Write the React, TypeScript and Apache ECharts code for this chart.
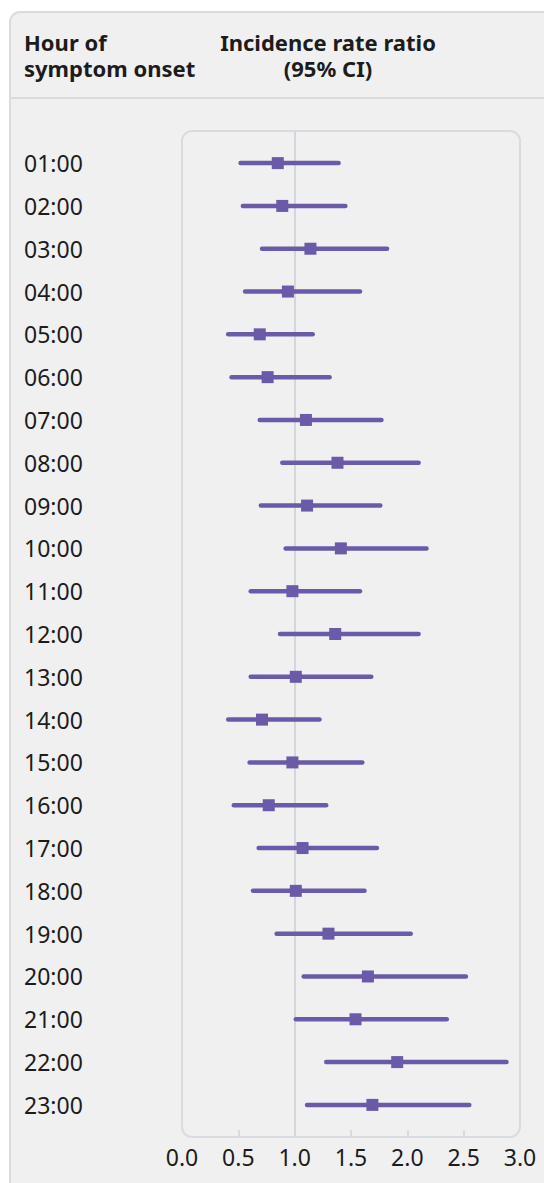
import React, { useEffect, useRef } from "react";
import * as echarts from "echarts";

const hours = [
  "01:00", "02:00", "03:00", "04:00", "05:00", "06:00", "07:00", "08:00",
  "09:00", "10:00", "11:00", "12:00", "13:00", "14:00", "15:00", "16:00",
  "17:00", "18:00", "19:00", "20:00", "21:00", "22:00", "23:00",
];
const estimate = [
  0.85, 0.89, 1.14, 0.94, 0.69, 0.76, 1.10, 1.38, 1.11, 1.41, 0.98, 1.36,
  1.01, 0.71, 0.98, 0.77, 1.07, 1.01, 1.30, 1.65, 1.54, 1.91, 1.69,
];
const lower = [
  0.52, 0.54, 0.71, 0.56, 0.41, 0.44, 0.69, 0.89, 0.70, 0.92, 0.61, 0.87,
  0.61, 0.41, 0.60, 0.46, 0.68, 0.63, 0.84, 1.08, 1.01, 1.28, 1.11,
];
const upper = [
  1.39, 1.45, 1.82, 1.58, 1.16, 1.31, 1.77, 2.10, 1.76, 2.17, 1.58, 2.10,
  1.68, 1.22, 1.60, 1.28, 1.73, 1.62, 2.03, 2.52, 2.35, 2.88, 2.55,
];
const xTicks = [0, 0.5, 1, 1.5, 2, 2.5, 3];
const referenceValue = 1;
const headerLeft = ["Hour of", "symptom onset"];
const headerRight = ["Incidence rate ratio", "(95% CI)"];

const PURPLE = "#6a5aa8";
const BORDER = "#d8dce0";
const TEXT = "#1c1c1c";
const FONT = "'Noto Sans', sans-serif";

const PLOT_LEFT = 182;
const PLOT_TOP = 131;
const PLOT_W = 338;
const PLOT_H = 1006;
const ROW_H = PLOT_H / 23.5;

export default function App() {
  const ref = useRef<HTMLDivElement>(null);

  useEffect(() => {
    if (!ref.current) return;
    const chart = echarts.init(ref.current, null, { renderer: "svg" });

    const rows = hours.map((h, i) => i + 1);
    const ciData = rows.map((y, i) => [lower[i], upper[i], y]);
    const ptData = rows.map((y, i) => [estimate[i], y]);

    chart.setOption({
      animation: false,
      backgroundColor: "#ffffff",
      textStyle: { fontFamily: FONT },
      graphic: [
        {
          type: "rect",
          z: -10,
          shape: { x: 10, y: 12, width: 600, height: 1300, r: [10, 0, 0, 0] },
          style: { fill: "#f0f0f0", stroke: BORDER, lineWidth: 2 },
          silent: true,
        },
        {
          type: "line",
          z: -9,
          shape: { x1: 10, y1: 98, x2: 560, y2: 98 },
          style: { stroke: BORDER, lineWidth: 2 },
          silent: true,
        },
        {
          type: "rect",
          z: -8,
          shape: { x: PLOT_LEFT, y: PLOT_TOP, width: PLOT_W, height: PLOT_H, r: 10 },
          style: { fill: "none", stroke: BORDER, lineWidth: 2 },
          silent: true,
        },
        {
          type: "text",
          z: 5,
          x: 24,
          y: 29,
          style: {
            text: headerLeft.join("\n"),
            fill: TEXT,
            font: `bold 22px ${FONT}`,
            lineHeight: 26,
            textAlign: "left",
            textVerticalAlign: "top",
          },
        },
        {
          type: "text",
          z: 5,
          x: 328,
          y: 29,
          style: {
            text: headerRight.join("\n"),
            fill: TEXT,
            font: `bold 22px ${FONT}`,
            lineHeight: 26,
            textAlign: "center",
            textVerticalAlign: "top",
          },
        },
      ],
      grid: [
        { left: PLOT_LEFT, top: PLOT_TOP, width: PLOT_W, height: PLOT_H },
        {
          left: PLOT_LEFT,
          top: PLOT_TOP + ROW_H * 0.25,
          width: PLOT_W,
          height: ROW_H * 23,
        },
      ],
      xAxis: [
        {
          type: "value",
          gridIndex: 0,
          min: 0,
          max: 3,
          interval: 0.5,
          axisLine: { show: false },
          splitLine: { show: false },
          axisTick: {
            show: true,
            inside: true,
            length: 7,
            customValues: xTicks.filter((v) => v > 0 && v < 3),
            lineStyle: { color: BORDER, width: 2 },
          },
          axisLabel: {
            customValues: xTicks,
            formatter: (v: number) => v.toFixed(1),
            fontSize: 23,
            fontFamily: FONT,
            color: TEXT,
            margin: 8,
          },
        },
        { type: "value", gridIndex: 1, show: false, min: 0, max: 3 },
      ],
      yAxis: [
        {
          type: "value",
          gridIndex: 0,
          inverse: true,
          min: 0.25,
          max: 23.75,
          show: false,
        },
        {
          type: "category",
          gridIndex: 1,
          inverse: true,
          data: hours,
          axisLine: { show: false },
          axisTick: { show: false },
          splitLine: { show: false },
          axisLabel: {
            align: "left",
            margin: PLOT_LEFT - 24,
            fontSize: 23,
            fontFamily: FONT,
            color: TEXT,
          },
        },
      ],
      series: [
        {
          type: "line",
          xAxisIndex: 0,
          yAxisIndex: 0,
          data: [],
          z: 1,
          silent: true,
          markLine: {
            z: 1,
            silent: true,
            symbol: "none",
            label: { show: false },
            lineStyle: { color: "#d3d7db", width: 2, type: "solid" },
            data: [{ xAxis: referenceValue }],
          },
        },
        {
          type: "custom",
          xAxisIndex: 0,
          yAxisIndex: 0,
          z: 3,
          data: ciData,
          renderItem: (params: any, api: any) => {
            const p1 = api.coord([api.value(0), api.value(2)]);
            const p2 = api.coord([api.value(1), api.value(2)]);
            return {
              type: "line",
              shape: { x1: p1[0], y1: p1[1], x2: p2[0], y2: p2[1] },
              style: { stroke: PURPLE, lineWidth: 4.5, lineCap: "round" },
            };
          },
        },
        {
          type: "scatter",
          xAxisIndex: 0,
          yAxisIndex: 0,
          z: 4,
          symbol: "rect",
          symbolSize: 12,
          itemStyle: { color: PURPLE, opacity: 1 },
          data: ptData,
        },
        {
          type: "scatter",
          xAxisIndex: 1,
          yAxisIndex: 1,
          data: [],
        },
      ],
    });

    return () => chart.dispose();
  }, []);

  return (
    <div
      ref={ref}
      style={{ position: "fixed", left: 0, top: 0, width: 544, height: 1183 }}
    />
  );
}
